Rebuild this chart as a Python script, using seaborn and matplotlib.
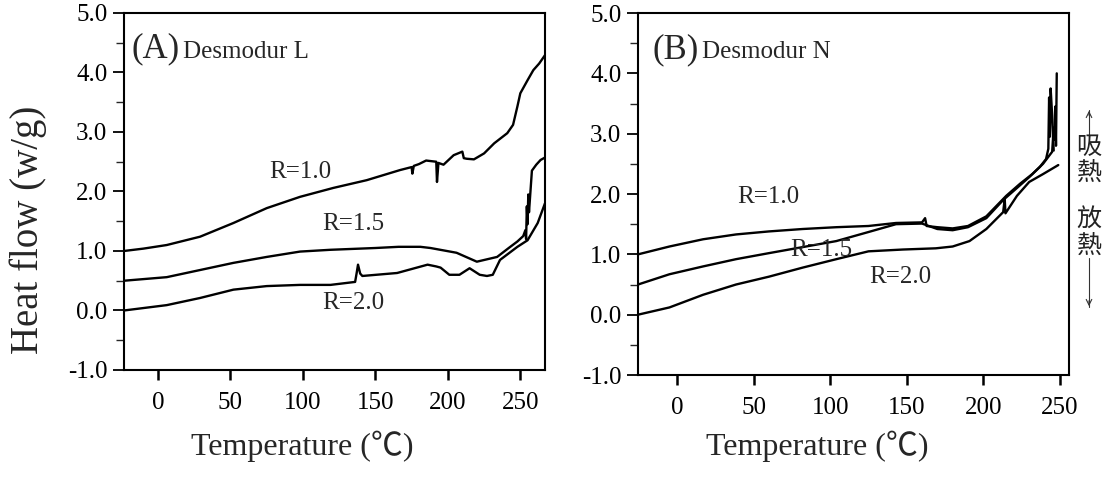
import numpy as np
import pandas as pd
import seaborn as sns
import matplotlib.pyplot as plt
from matplotlib.ticker import MultipleLocator

# ---- data ----
# (A) Desmodur L
a_r10_t = [-23.5, -10, 6, 29, 52, 75, 98, 121, 144, 167, 175, 175.5, 176.5, 180, 185, 192, 192.5, 193.5,
           197, 204, 210, 211, 213, 218, 225, 232, 241, 245, 248, 250, 255, 259, 263, 267]
a_r10_h = [1.0, 1.04, 1.10, 1.24, 1.47, 1.72, 1.91, 2.06, 2.19, 2.36, 2.41, 2.30, 2.43, 2.46, 2.52, 2.50, 2.16, 2.48,
           2.45, 2.61, 2.67, 2.56, 2.55, 2.54, 2.64, 2.81, 2.98, 3.12, 3.43, 3.65, 3.87, 4.04, 4.15, 4.29]

a_r15_t = [-23.5, 6, 29, 52, 75, 98, 119, 150, 166, 181, 188, 206, 220, 234, 242, 248, 252, 253.5, 254,
           254.5, 255, 255.5, 256, 258, 261, 264, 267]
a_r15_h = [0.50, 0.56, 0.68, 0.80, 0.90, 0.99, 1.02, 1.05, 1.07, 1.07, 1.05, 0.97, 0.82, 0.90, 1.05, 1.16, 1.25,
           1.35, 1.20, 1.75, 1.45, 1.95, 1.65, 2.35, 2.45, 2.53, 2.57]

a_r20_t = [-23.5, 6, 29, 52, 75, 98, 119, 136, 137, 138, 139.5, 141, 165, 186, 192, 195, 201, 208, 215, 222,
           227, 231, 236, 242, 248, 255, 262, 267]
a_r20_h = [0.0, 0.09, 0.21, 0.35, 0.41, 0.43, 0.43, 0.48, 0.62, 0.77, 0.62, 0.58, 0.63, 0.77, 0.74, 0.72, 0.60,
           0.60, 0.71, 0.60, 0.58, 0.60, 0.85, 0.96, 1.07, 1.18, 1.47, 1.80]

# (B) Desmodur N
b_r10_t = [-25.5, -5, 17, 38.5, 60, 82, 104, 125, 143, 160, 162, 163, 170, 180, 190, 202, 215, 224, 232, 239,
           245, 246, 246.5, 247, 247.5, 248]
b_r10_h = [1.00, 1.13, 1.25, 1.33, 1.38, 1.42, 1.45, 1.47, 1.52, 1.53, 1.60, 1.47, 1.45, 1.43, 1.47, 1.63, 1.97,
           2.17, 2.33, 2.50, 2.70, 3.10, 2.90, 3.45, 2.80, 4.00]

b_r15_t = [-25.5, -5, 17, 38.5, 60, 82, 104, 125, 143, 160, 170, 180, 190, 202, 213, 222, 230, 237, 241, 242.5,
           243, 243.5, 244, 245, 246]
b_r15_h = [0.50, 0.67, 0.80, 0.92, 1.02, 1.12, 1.22, 1.37, 1.50, 1.51, 1.42, 1.40, 1.45, 1.60, 1.90, 2.10, 2.28,
           2.45, 2.58, 2.75, 3.60, 2.95, 3.75, 3.30, 2.72]

b_r20_t = [-25.5, -5, 17, 38.5, 60, 82, 104, 125, 147.5, 169, 180, 191, 202, 213, 214, 214.5, 222, 230, 239, 249]
b_r20_h = [0.0, 0.12, 0.33, 0.50, 0.63, 0.78, 0.92, 1.05, 1.08, 1.10, 1.13, 1.22, 1.42, 1.70, 1.92, 1.68, 1.97,
           2.20, 2.33, 2.48]

x_ticks = [0, 50, 100, 150, 200, 250]
y_ticks = [-1, 0, 1, 2, 3, 4, 5]
y_tick_labels = ['-1.0', '0.0', '1.0', '2.0', '3.0', '4.0', '5.0']


def make_df(curves):
    frames = []
    for r, t, h in curves:
        frames.append(pd.DataFrame({'T': t, 'HF': h, 'R': r}))
    return pd.concat(frames, ignore_index=True)


df_a = make_df([('1.0', a_r10_t, a_r10_h), ('1.5', a_r15_t, a_r15_h), ('2.0', a_r20_t, a_r20_h)])
df_b = make_df([('1.0', b_r10_t, b_r10_h), ('1.5', b_r15_t, b_r15_h), ('2.0', b_r20_t, b_r20_h)])

sns.set_style('ticks')
plt.rcParams['font.family'] = ['Liberation Serif', 'Noto Sans CJK TC']
plt.rcParams['axes.unicode_minus'] = False

fig = plt.figure(figsize=(11.11, 4.79), dpi=100)
ax1 = fig.add_axes([0.1116, 0.2276, 0.3789, 0.7453])
ax2 = fig.add_axes([0.5743, 0.2171, 0.3879, 0.7557])

pal = {'1.0': 'black', '1.5': 'black', '2.0': 'black'}
for ax, df, xlim in [(ax1, df_a, (-23.5, 267)), (ax2, df_b, (-25.5, 256))]:
    sns.lineplot(data=df, x='T', y='HF', hue='R', palette=pal, estimator=None, sort=False,
                 legend=False, lw=1.7, ax=ax)
    ax.set_xlim(*xlim)
    ax.set_ylim(-1, 5)
    ax.set_xticks(x_ticks)
    ax.set_xticklabels([str(v) for v in x_ticks])
    ax.set_yticks(y_ticks)
    ax.set_yticklabels(y_tick_labels)
    ax.yaxis.set_minor_locator(MultipleLocator(0.5))
    ax.set_xlabel('')
    ax.set_ylabel('')
    for s in ax.spines.values():
        s.set_visible(True)
        s.set_linewidth(1.5)
        s.set_color('black')
    ax.tick_params(axis='x', direction='out', length=7, width=1.8, labelsize=18, pad=9, colors='black')
    ax.tick_params(axis='y', which='major', direction='out', length=8, width=1.3, labelsize=18, pad=4,
                   colors='black')
    ax.tick_params(axis='y', which='minor', direction='out', length=6, width=1.0)

# panel titles
ax1.text(0.019, 0.875, '(A)', transform=ax1.transAxes, fontsize=25)
ax1.text(0.140, 0.875, 'Desmodur L', transform=ax1.transAxes, fontsize=18)
ax2.text(0.033, 0.875, '(B)', transform=ax2.transAxes, fontsize=25)
ax2.text(0.149, 0.875, 'Desmodur N', transform=ax2.transAxes, fontsize=18)

# curve labels
ax1.text(98, 2.33, 'R=1.0', fontsize=18, ha='center', va='center')
ax1.text(134.7, 1.45, 'R=1.5', fontsize=18, ha='center', va='center')
ax1.text(134.7, 0.13, 'R=2.0', fontsize=18, ha='center', va='center')
ax2.text(59.4, 1.95, 'R=1.0', fontsize=18, ha='center', va='center')
ax2.text(94, 1.07, 'R=1.5', fontsize=18, ha='center', va='center')
ax2.text(145.6, 0.63, 'R=2.0', fontsize=18, ha='center', va='center')

# axis titles
fig.text(28 / 1111, 1 - 230 / 479, 'Heat flow (w/g)', rotation=90, ha='center', va='center', fontsize=28)
fig.text(302 / 1111, 1 - 446 / 479, 'Temperature (℃)', ha='center', va='center', fontsize=23)
fig.text(817 / 1111, 1 - 446 / 479, 'Temperature (℃)', ha='center', va='center', fontsize=23)

# endo / exo marks on the right
cjk = ['Noto Sans CJK TC']
fig.text(1089 / 1111, 1 - 160 / 479, '吸\n熱', family=cjk, fontsize=18, ha='center', va='center',
         linespacing=1.0, color='#222222')
fig.text(1089 / 1111, 1 - 233 / 479, '放\n熱', family=cjk, fontsize=18, ha='center', va='center',
         linespacing=1.0, color='#222222')
fig.add_artist(plt.Line2D([1089 / 1111] * 2, [1 - 137 / 479, 1 - 110 / 479], color='#333333', lw=0.8))
fig.add_artist(plt.Line2D([1089 / 1111] * 2, [1 - 258 / 479, 1 - 307 / 479], color='#333333', lw=0.8))
ax2.annotate('', xy=(1089 / 1111, 1 - 108 / 479), xytext=(1089 / 1111, 1 - 118 / 479),
             xycoords='figure fraction', textcoords='figure fraction',
             arrowprops=dict(arrowstyle='->', color='#333333', lw=0.8))
ax2.annotate('', xy=(1089 / 1111, 1 - 309 / 479), xytext=(1089 / 1111, 1 - 298 / 479),
             xycoords='figure fraction', textcoords='figure fraction',
             arrowprops=dict(arrowstyle='->', color='#333333', lw=0.8))

fig.savefig('out.png', dpi=100)
